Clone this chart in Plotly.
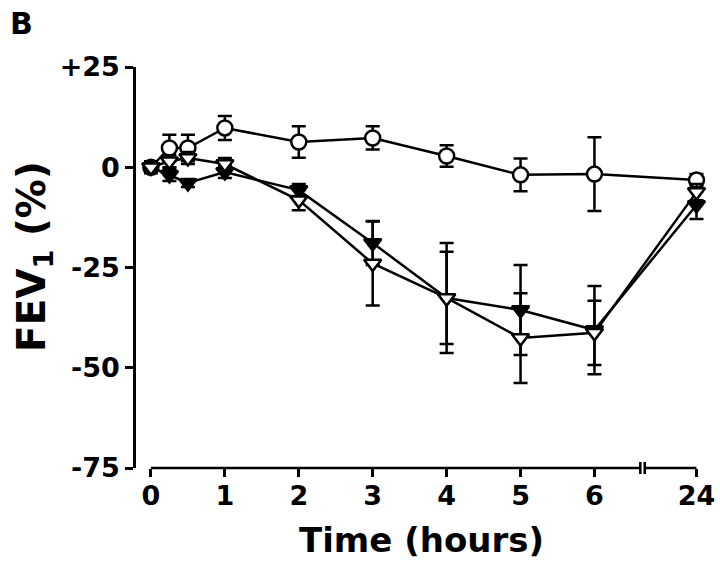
import plotly.graph_objects as go

# ---- data ----
hours = [0, 0.25, 0.5, 1, 2, 3, 4, 5, 6, 24]

circle_vals = [0, 4.8, 4.8, 9.8, 6.3, 7.3, 2.8, -1.9, -1.7, -3.2]
circle_err = [0, 3.3, 3.3, 3.0, 3.9, 2.9, 2.7, 4.1, 9.2, 1.5]

filled_vals = [0, -1.9, -3.9, -1.2, -5.7, -18.9, -32.6, -35.6, -40.6, -9.4]
filled_err = [1.0, 1.5, 1.0, 1.5, 1.5, 5.5, 11.5, 11.2, 11.0, 3.5]

open_tri_vals = [0, 1.5, 2.3, 0.8, -8.2, -24.0, -32.6, -42.6, -41.3, -6.2]
open_tri_err = [1.5, 1.5, 1.5, 1.5, 2.5, 10.5, 13.7, 11.2, 8.0, 2.0]

x_tick_hours = [0, 1, 2, 3, 4, 5, 6, 24]
x_tick_labels = ["0", "1", "2", "3", "4", "5", "6", "24"]
y_tick_vals = [25, 0, -25, -50, -75]
y_tick_labels = ["+25", "0", "-25", "-50", "-75"]

# broken time axis: 24 h drawn just after the break
BREAK_LO, BREAK_HI, POS_24 = 6.62, 6.68, 7.38


def xpos(h):
    return POS_24 if h >= 24 else h


XR = [-0.202, 7.59]


def paper_x(d):
    return (d - XR[0]) / (XR[1] - XR[0])


FONT = "DejaVu Sans"
BLACK = "#000000"
LW = 2.5

fig = go.Figure()


def add_series(vals, errs, symbol, fill):
    fig.add_trace(go.Scatter(
        x=[xpos(h) for h in hours], y=vals,
        mode="lines+markers",
        line=dict(color=BLACK, width=LW),
        marker=dict(symbol=symbol, size=15, color=fill,
                    line=dict(color=BLACK, width=LW)),
        error_y=dict(type="data", array=errs, visible=True,
                     color=BLACK, thickness=LW, width=7),
        cliponaxis=False, showlegend=False,
    ))


add_series(circle_vals, circle_err, "circle", "white")
add_series(filled_vals, filled_err, "triangle-down", BLACK)
add_series(open_tri_vals, open_tri_err, "triangle-down", "white")

# x-axis baseline with break marks
shape_line = dict(color=BLACK, width=LW)
fig.add_shape(type="line", xref="paper", yref="paper",
              x0=paper_x(0), x1=paper_x(BREAK_LO), y0=0, y1=0, line=shape_line)
fig.add_shape(type="line", xref="paper", yref="paper",
              x0=paper_x(BREAK_HI), x1=paper_x(POS_24), y0=0, y1=0, line=shape_line)
for b in (BREAK_LO, BREAK_HI):
    fig.add_shape(type="line", xref="paper", yref="paper",
                  x0=paper_x(b), x1=paper_x(b), y0=-6 / 401, y1=6 / 401,
                  line=shape_line)

tick_font = dict(family=FONT, size=27, color=BLACK, weight="bold")

fig.update_xaxes(
    range=XR, showgrid=False, zeroline=False, showline=False,
    tickmode="array", tickvals=[xpos(h) for h in x_tick_hours], ticktext=x_tick_labels,
    ticks="outside", ticklen=8, tickwidth=LW, tickcolor=BLACK,
    tickfont=tick_font, ticklabelstandoff=-4,
)
fig.update_yaxes(
    range=[-75, 25], showgrid=False, zeroline=False,
    showline=True, linewidth=LW, linecolor=BLACK,
    tickmode="array", tickvals=y_tick_vals, ticktext=y_tick_labels,
    ticks="outside", ticklen=8, tickwidth=LW, tickcolor=BLACK,
    tickfont=tick_font, ticklabelstandoff=0,
)

fig.add_annotation(text="Time (hours)", xref="paper", yref="paper",
                   x=(423 - 136) / 579, y=(468 - 540) / 401,
                   xanchor="center", yanchor="middle", showarrow=False,
                   font=dict(family=FONT, size=34, color=BLACK, weight="bold"))
fig.add_annotation(text="FEV<sub>1</sub> (%)", xref="paper", yref="paper",
                   x=0, xshift=-102, y=(468 - 257) / 401, textangle=-90,
                   xanchor="center", yanchor="middle", showarrow=False,
                   font=dict(family=FONT, size=39, color=BLACK, weight="bold"))
fig.add_annotation(text="B", xref="paper", yref="paper",
                   x=0, xshift=-115, y=(468 - 24) / 401,
                   xanchor="center", yanchor="middle", showarrow=False,
                   font=dict(family=FONT, size=30, color=BLACK, weight="bold"))

fig.update_layout(
    width=720, height=569,
    margin=dict(l=136, r=5, t=67, b=101),
    plot_bgcolor="white", paper_bgcolor="white",
    showlegend=False,
)

fig.write_html(
    "out.html",
    config={"displayModeBar": False},
    post_script="document.body.style.margin='0';document.body.style.overflow='hidden';",
)
